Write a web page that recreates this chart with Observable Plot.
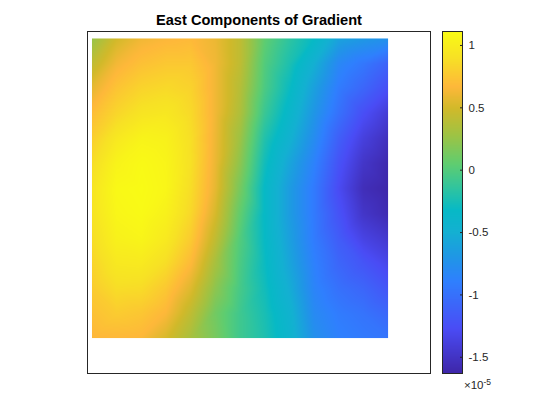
<!DOCTYPE html>
<html>
<head>
<meta charset="utf-8">
<script src="https://cdn.jsdelivr.net/npm/d3@7"></script>
<script src="https://cdn.jsdelivr.net/npm/@observablehq/plot@0.6"></script>
<style>
  html, body { margin: 0; padding: 0; background: #fff; }
  #chart { position: relative; width: 560px; height: 420px; overflow: hidden; font-family: "Liberation Sans", Arial, sans-serif; }
  #chart > * { position: absolute; opacity: 0.999; }
  #title { left: 87px; width: 344px; top: 12px; text-align: center; font-size: 14.6px; font-weight: bold; color: #000; line-height: 16px; white-space: nowrap; }
  #exponent { left: 464px; top: 379px; font-size: 11.5px; color: #262626; line-height: 13px; white-space: nowrap; }
  #exponent sup { font-size: 8.5px; line-height: 0; vertical-align: 4px; }
</style>
</head>
<body>
<div id="chart"></div>
<script>
const titleText = "East Components of Gradient";
const colorbarTicks = [-1.5, -1, -0.5, 0, 0.5, 1];
const colorLimits = [-1.63, 1.112];
const colorStops = [-1.63, -1.27, -0.89, -0.7, -0.5, -0.32, -0.15, 0.05, 0.28, 0.5, 0.67, 0.9, 1.112];
const colorValues = ["#3e26a8", "#4a4cf5", "#2f80fe", "#2096e6", "#14b0d2", "#07b9c6", "#2ec4a0", "#5fcd70", "#9ec344", "#d2b92a", "#feb83a", "#f7e125", "#f9fb15"];
const columnCount = 13;
const rowCount = 13;
const eastGradient = [
  [0.25,0.50,0.62,0.66,0.68,0.60,0.42,0.05,-0.15,-0.32,-0.60,-0.68,-0.74],
  [0.42,0.63,0.72,0.76,0.76,0.62,0.42,0.00,-0.22,-0.50,-0.82,-0.95,-1.10],
  [0.58,0.74,0.83,0.86,0.82,0.62,0.38,-0.03,-0.30,-0.62,-0.92,-1.08,-1.25],
  [0.70,0.84,0.93,0.95,0.86,0.62,0.35,-0.10,-0.38,-0.70,-1.00,-1.25,-1.42],
  [0.80,0.96,1.05,1.03,0.89,0.61,0.28,-0.20,-0.47,-0.78,-1.13,-1.38,-1.53],
  [0.88,1.05,1.10,1.06,0.90,0.60,0.22,-0.27,-0.58,-0.87,-1.22,-1.48,-1.60],
  [0.93,1.09,1.112,1.07,0.88,0.58,0.14,-0.33,-0.65,-0.93,-1.28,-1.55,-1.62],
  [0.92,1.07,1.10,1.03,0.85,0.52,0.06,-0.33,-0.65,-0.93,-1.22,-1.48,-1.58],
  [0.88,1.03,1.06,0.97,0.78,0.43,0.00,-0.32,-0.62,-0.92,-1.15,-1.35,-1.45],
  [0.83,0.96,0.97,0.88,0.68,0.32,-0.03,-0.30,-0.58,-0.88,-1.08,-1.20,-1.32],
  [0.78,0.88,0.87,0.76,0.55,0.22,-0.05,-0.27,-0.52,-0.85,-1.00,-1.08,-1.20],
  [0.72,0.78,0.75,0.66,0.42,0.12,-0.08,-0.24,-0.45,-0.80,-0.92,-0.98,-1.07],
  [0.66,0.67,0.66,0.52,0.32,0.14,-0.08,-0.22,-0.42,-0.75,-0.88,-0.93,-0.97]
];

const table = eastGradient.flatMap((row, j) => row.map((v, i) => ({i, j, v})));
const colorOptions = {type: "linear", domain: colorStops, range: colorValues, clamp: true};

const map = Plot.plot({
  width: 360, height: 358,
  marginLeft: 7, marginRight: 10, marginTop: 7, marginBottom: 9,
  x: {domain: [-0.182, 13.72], axis: null},
  y: {domain: [13.42, -0.28], axis: null},
  color: colorOptions,
  marks: [
    Plot.raster(table, {
      x: "i", y: "j", fill: "v",
      x1: 0, x2: columnCount - 1, y1: 0, y2: rowCount - 1,
      interpolate: "barycentric", pixelSize: 1
    }),
    Plot.frame({stroke: "#262626", strokeWidth: 1})
  ]
});
map.style.left = "80px"; map.style.top = "24px";

const bar = Plot.plot({
  width: 70, height: 358,
  marginLeft: 2, marginRight: 48, marginTop: 7, marginBottom: 9,
  x: {domain: [0, 1], axis: null},
  y: {domain: colorLimits},
  color: colorOptions,
  style: {fontFamily: "Liberation Sans, Arial, sans-serif", fontSize: "11.5px", color: "#262626", background: "transparent"},
  marks: [
    Plot.raster({x1: 0, x2: 1, y1: colorLimits[0], y2: colorLimits[1], fill: (x, y) => y, pixelSize: 1}),
    Plot.axisY(colorbarTicks, {anchor: "right", tickSize: -3, tickPadding: 9, label: null, tickFormat: d => String(d), stroke: "#262626", fill: "#262626"}),
    Plot.frame({stroke: "#262626", strokeWidth: 1})
  ]
});
bar.style.left = "440px"; bar.style.top = "24px";

const chart = document.getElementById("chart");
const title = document.createElement("div");
title.id = "title"; title.textContent = titleText;
const exponent = document.createElement("div");
exponent.id = "exponent"; exponent.innerHTML = "×10<sup>-5</sup>";
chart.append(map, bar, title, exponent);
</script>
</body>
</html>
